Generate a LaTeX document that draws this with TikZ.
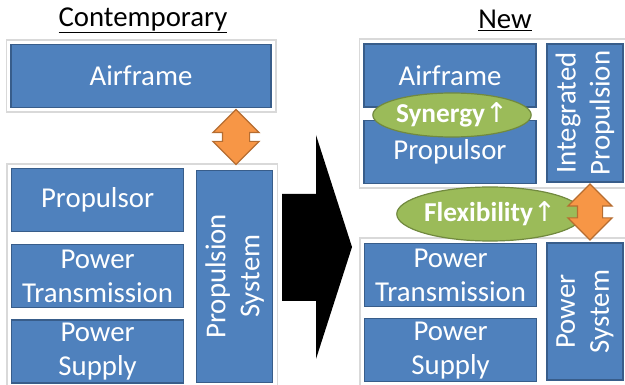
\documentclass[tikz,border=0pt]{standalone}
\usepackage{fontspec}
\setmainfont{Carlito}
\newfontfamily\arrowfont{DejaVu Sans}
\usepackage{tikz}
\usetikzlibrary{positioning,fit,shapes.geometric,shapes.arrows}

\definecolor{boxblue}{HTML}{4F81BD}
\definecolor{boxedge}{HTML}{385D8A}
\definecolor{arrorange}{HTML}{F79646}
\definecolor{arredge}{HTML}{B66D31}
\definecolor{syngreen}{HTML}{9BBB59}
\definecolor{synedge}{HTML}{71893F}

\begin{document}
\begin{tikzpicture}[
  x=1pt, y=-1pt,
  font=\fontsize{28.8}{34}\selectfont,
  blk/.style={draw=boxedge, line width=1.2pt, fill=boxblue, text=white, align=center, inner sep=0pt, minimum width=172pt, minimum height=63pt},
  vblk/.style={blk, rotate=90, minimum width=212pt, minimum height=76pt},
  frame/.style={draw=gray!30, line width=1.8pt, inner sep=4pt},
  gain/.style={ellipse, draw=synedge, line width=1.2pt, fill=syngreen, text=white, font=\fontsize{27.3}{31}\selectfont\bfseries, inner sep=0pt},
  link/.style={double arrow, shape border rotate=90, draw=arredge, line width=1.2pt, fill=arrorange, inner sep=13pt, double arrow head extend=9.5pt}
]
\useasboundingbox (0,0) rectangle (625,385);

% titles
\node (oldtitle) at (143,20) {\underline{Contemporary}};
\node (newtitle) at (505,20) {\underline{New}};

% contemporary layout
\node[blk, minimum width=260pt] (airL) at (141,76) {Airframe};
\node[blk, anchor=north west] (propL) at (11,168) {Propulsor};
\node[blk, below=12pt of propL] (transL) {Power\\Transmission};
\node[blk, below=11pt of transL] (supplyL) {Power\\Supply};
\node[vblk, right=12pt of transL.east, anchor=north] (psysL) {Propulsion\\System};

\node[frame, fit=(airL)] (topL) {};
\node[frame, fit=(propL) (supplyL) (psysL)] (botL) {};
\node[link, minimum height=55pt] (linkL) at (236,137) {};

% transition
\fill (282,194) -- (316,194) -- (316,135) -- (352,247) -- (316,359) -- (316,301) -- (282,301) -- cycle;

% new layout
\node[blk] (airR) at (450,75.5) {Airframe};
\node[blk, below=12pt of airR] (propR) {Propulsor};
\node[vblk, minimum width=138pt] (intR) at (585,113) {Integrated\\Propulsion};
\node[blk, anchor=north west] (transR) at (364,243) {Power\\Transmission};
\node[blk, below=11pt of transR] (supplyR) {Power\\Supply};
\node[vblk, minimum width=137pt] (psysR) at (585,311.5) {Power\\System};

\node[frame, fit=(airR) (propR) (intR)] (topR) {};
\node[frame, fit=(transR) (supplyR) (psysR)] (botR) {};

\node[gain, minimum width=151pt, minimum height=44pt] (synergy) at (452,115) {Synergy{\mdseries\arrowfont ↑}};
\node[gain, minimum width=163pt, minimum height=54pt] (flex) at (490,214) {Flexibility{\mdseries\arrowfont ↑}};
\node[link, minimum height=56pt, inner sep=12pt] (linkR) at (590,212) {};
\end{tikzpicture}
\end{document}
